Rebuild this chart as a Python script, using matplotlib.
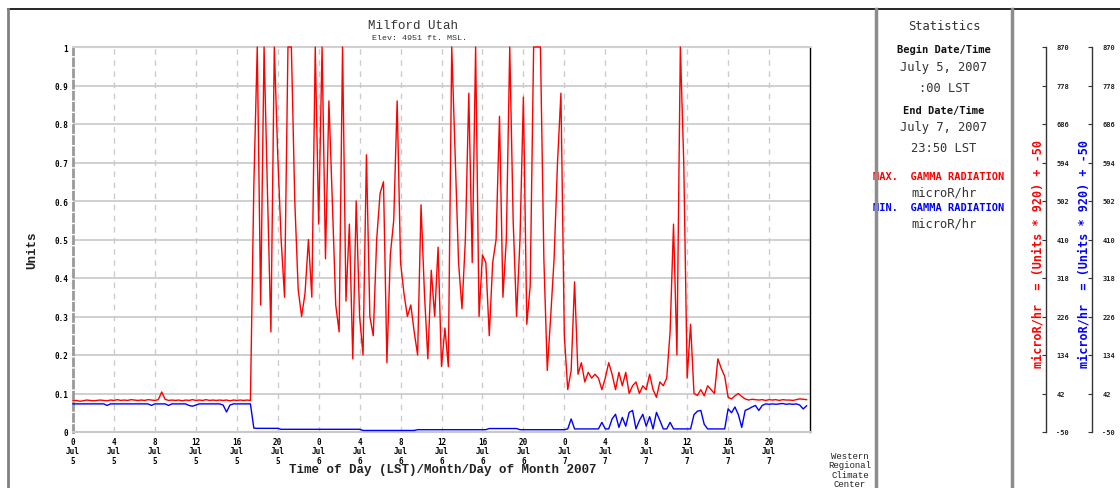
import matplotlib
matplotlib.use('Agg')
import matplotlib.pyplot as plt
from matplotlib.lines import Line2D
import numpy as np

# 20-minute samples, one row per hour (:00, :20, :40), Jul 5 0:00 .. Jul 7 23:40
max_gamma = [
    0.081, 0.082, 0.080,  0.081, 0.083, 0.082,  0.081, 0.082, 0.083,  0.082, 0.081, 0.083,
    0.082, 0.084, 0.082,  0.083, 0.082, 0.084,  0.083, 0.082, 0.083,  0.082, 0.084, 0.083,
    0.082, 0.084, 0.104,  0.085, 0.082, 0.083,  0.082, 0.083, 0.081,  0.083, 0.082, 0.084,
    0.082, 0.083, 0.082,  0.084, 0.082, 0.083,  0.082, 0.083, 0.082,  0.083, 0.081, 0.083,
    0.082, 0.083, 0.082,  0.083, 0.082, 0.640,  1.000, 0.330, 1.000,  0.620, 0.260, 1.000,
    0.720, 0.500, 0.350,  1.000, 1.000, 0.600,  0.370, 0.300, 0.360,  0.500, 0.350, 1.000,
    0.540, 1.000, 0.450,  0.860, 0.600, 0.330,  0.260, 1.000, 0.340,  0.540, 0.190, 0.600,
    0.300, 0.200, 0.720,  0.300, 0.250, 0.500,  0.620, 0.650, 0.180,  0.460, 0.550, 0.860,
    0.440, 0.360, 0.300,  0.330, 0.260, 0.200,  0.590, 0.360, 0.190,  0.420, 0.300, 0.480,
    0.170, 0.270, 0.170,  1.000, 0.720, 0.440,  0.320, 0.500, 0.880,  0.440, 1.000, 0.300,
    0.460, 0.440, 0.250,  0.440, 0.500, 0.820,  0.350, 0.500, 1.000,  0.550, 0.300, 0.500,
    0.870, 0.280, 0.380,  1.000, 1.000, 1.000,  0.450, 0.160, 0.300,  0.450, 0.700, 0.880,
    0.250, 0.110, 0.160,  0.390, 0.150, 0.180,  0.130, 0.155, 0.140,  0.150, 0.140, 0.110,
    0.140, 0.180, 0.150,  0.110, 0.155, 0.120,  0.155, 0.100, 0.120,  0.130, 0.100, 0.120,
    0.110, 0.150, 0.110,  0.090, 0.130, 0.120,  0.140, 0.260, 0.540,  0.200, 1.000, 0.700,
    0.140, 0.280, 0.100,  0.095, 0.110, 0.094,  0.120, 0.110, 0.100,  0.190, 0.165, 0.145,
    0.090, 0.086, 0.094,  0.100, 0.092, 0.086,  0.083, 0.085, 0.084,  0.083, 0.084, 0.082,
    0.084, 0.083, 0.084,  0.082, 0.084, 0.083,  0.083, 0.082, 0.084,  0.086, 0.085, 0.084,
]

min_gamma = [
    0.073, 0.073, 0.073,  0.073, 0.073, 0.073,  0.073, 0.073, 0.073,  0.073, 0.069, 0.073,
    0.073, 0.073, 0.073,  0.073, 0.073, 0.073,  0.073, 0.073, 0.073,  0.073, 0.073, 0.069,
    0.073, 0.073, 0.073,  0.073, 0.069, 0.073,  0.073, 0.073, 0.073,  0.073, 0.069, 0.067,
    0.070, 0.073, 0.073,  0.073, 0.073, 0.073,  0.073, 0.073, 0.070,  0.052, 0.070, 0.073,
    0.073, 0.073, 0.073,  0.073, 0.073, 0.010,  0.0095, 0.0095, 0.0095,  0.0095, 0.0095, 0.0095,
    0.0095, 0.007, 0.007,  0.007, 0.007, 0.007,  0.007, 0.007, 0.007,  0.007, 0.007, 0.007,
    0.007, 0.007, 0.007,  0.007, 0.007, 0.007,  0.007, 0.007, 0.007,  0.007, 0.007, 0.007,
    0.007, 0.004, 0.004,  0.004, 0.004, 0.004,  0.004, 0.004, 0.004,  0.004, 0.004, 0.004,
    0.004, 0.004, 0.004,  0.004, 0.004, 0.006,  0.006, 0.006, 0.006,  0.006, 0.006, 0.006,
    0.006, 0.006, 0.006,  0.006, 0.006, 0.006,  0.006, 0.006, 0.006,  0.006, 0.006, 0.006,
    0.006, 0.006, 0.009,  0.009, 0.009, 0.009,  0.009, 0.009, 0.009,  0.009, 0.009, 0.006,
    0.006, 0.006, 0.006,  0.006, 0.006, 0.006,  0.006, 0.006, 0.006,  0.006, 0.006, 0.006,
    0.006, 0.008, 0.034,  0.008, 0.008, 0.008,  0.008, 0.008, 0.008,  0.008, 0.008, 0.025,
    0.008, 0.008, 0.034,  0.046, 0.012, 0.038,  0.015, 0.051, 0.056,  0.008, 0.030, 0.046,
    0.015, 0.040, 0.008,  0.051, 0.030, 0.008,  0.008, 0.025, 0.008,  0.008, 0.008, 0.008,
    0.008, 0.008, 0.045,  0.054, 0.056, 0.020,  0.008, 0.008, 0.008,  0.008, 0.008, 0.008,
    0.060, 0.050, 0.065,  0.045, 0.012, 0.056,  0.060, 0.065, 0.069,  0.056, 0.069, 0.073,
    0.072, 0.073, 0.072,  0.073, 0.074, 0.072,  0.073, 0.072, 0.073,  0.070, 0.060, 0.068,
]
sample_minutes = 20

tick_hours = [0, 4, 8, 12, 16, 20, 24, 28, 32, 36, 40, 44, 48, 52, 56, 60, 64, 68]
tick_labels = ['0\nJul\n5', '4\nJul\n5', '8\nJul\n5', '12\nJul\n5', '16\nJul\n5', '20\nJul\n5',
               '0\nJul\n6', '4\nJul\n6', '8\nJul\n6', '12\nJul\n6', '16\nJul\n6', '20\nJul\n6',
               '0\nJul\n7', '4\nJul\n7', '8\nJul\n7', '12\nJul\n7', '16\nJul\n7', '20\nJul\n7']
unit_ticks = [0, 0.1, 0.2, 0.3, 0.4, 0.5, 0.6, 0.7, 0.8, 0.9, 1.0]
unit_labels = ['0', '0.1', '0.2', '0.3', '0.4', '0.5', '0.6', '0.7', '0.8', '0.9', '1']
micro_ticks = [-50, 42, 134, 226, 318, 410, 502, 594, 686, 778, 870]

W, H = 1120, 489
MONO = 'DejaVu Sans Mono'
COUR = 'Liberation Mono'


def box(x0, y0, x1, y1):
    # pixel box (y measured from top) -> figure fraction
    return [x0 / W, 1 - y1 / H, (x1 - x0) / W, (y1 - y0) / H]


def fx(x):
    return x / W


def fy(y):
    return 1 - y / H


fig = plt.figure(figsize=(W / 100, H / 100), dpi=100)
fig.patch.set_facecolor('white')

# main chart
ax = fig.add_axes(box(73, 48, 810, 433))
hours = np.arange(len(max_gamma)) * sample_minutes / 60.0
ax.plot(hours, max_gamma, color='#ff0000', lw=1.0, clip_on=False, zorder=3)
ax.plot(hours, min_gamma, color='#0000ff', lw=1.0, clip_on=False, zorder=3)

ax.set_xlim(0, 72)
ax.set_ylim(0, 1)
ax.set_xticks(tick_hours)
ax.set_xticklabels(tick_labels, fontsize=5.5, family=MONO, fontweight='bold',
                   linespacing=1.05)
ax.set_yticks(unit_ticks)
ax.set_yticklabels(unit_labels, fontsize=5.5, family=MONO, fontweight='bold')
ax.tick_params(axis='both', length=0)
ax.tick_params(axis='x', pad=3.5)
ax.tick_params(axis='y', pad=3.5)
ax.grid(axis='y', color='#c8c8c8', lw=1.2)
ax.grid(axis='x', color='#cccccc', lw=1.0, ls=(0, (4, 4)))
ax.set_axisbelow(True)

ax.spines['left'].set_color('#999999')
ax.spines['left'].set_linestyle((0, (2.5, 1.5)))
ax.spines['left'].set_linewidth(2)
ax.spines['top'].set_color('#d0d0d0')
ax.spines['top'].set_linewidth(1.5)
ax.spines['bottom'].set_color('#c8c8c8')
ax.spines['bottom'].set_linewidth(1.5)
ax.spines['right'].set_color('black')
ax.spines['right'].set_linewidth(1.0)

fig.text(fx(413), fy(26), 'Milford Utah', ha='center', va='center', family=COUR,
         fontsize=9, color='#333333')
fig.text(fx(420), fy(39), 'Elev: 4951 ft. MSL.', ha='center', va='center', family=COUR,
         fontsize=6, color='#333333')
fig.text(fx(32), fy(250), 'Units', ha='center', va='center', rotation=90, family=COUR,
         fontsize=9, fontweight='bold', color='#222222')
fig.text(fx(443), fy(470), 'Time of Day (LST)/Month/Day of Month 2007', ha='center',
         va='center', family=COUR, fontsize=9, fontweight='bold', color='#222222')
fig.text(fx(850), fy(452), 'Western\nRegional\nClimate\nCenter', ha='center', va='top',
         family=COUR, fontsize=6.5, color='#222222', linespacing=1.05)

# statistics panel
cx = 944
fig.text(fx(cx), fy(26), 'Statistics', ha='center', va='center', family=MONO,
         fontsize=8.7, color='#333333')
fig.text(fx(cx), fy(50), 'Begin Date/Time', ha='center', va='center', family=MONO,
         fontsize=7.5, fontweight='bold', color='#111111')
fig.text(fx(cx), fy(68), 'July 5, 2007', ha='center', va='center', family=MONO,
         fontsize=8.7, color='#333333')
fig.text(fx(cx), fy(88), ':00 LST', ha='center', va='center', family=MONO,
         fontsize=8.7, color='#333333')
fig.text(fx(cx), fy(111), 'End Date/Time', ha='center', va='center', family=MONO,
         fontsize=7.5, fontweight='bold', color='#111111')
fig.text(fx(cx), fy(128), 'July 7, 2007', ha='center', va='center', family=MONO,
         fontsize=8.7, color='#333333')
fig.text(fx(cx), fy(148), '23:50 LST', ha='center', va='center', family=MONO,
         fontsize=8.7, color='#333333')
fig.text(fx(873), fy(177), 'MAX.  GAMMA RADIATION', ha='left', va='center', family=MONO,
         fontsize=7.5, fontweight='bold', color='#ff0000')
fig.text(fx(cx), fy(193), 'microR/hr', ha='center', va='center', family=MONO,
         fontsize=8.7, color='#333333')
fig.text(fx(873), fy(208), 'MIN.  GAMMA RADIATION', ha='left', va='center', family=MONO,
         fontsize=7.5, fontweight='bold', color='#0000ff')
fig.text(fx(cx), fy(224), 'microR/hr', ha='center', va='center', family=MONO,
         fontsize=8.7, color='#333333')

# converted scales on the right
for x_px, lab_x, color in [(1046, 1038, '#ff0000'), (1092, 1084, '#0000ff')]:
    rax = fig.add_axes(box(x_px, 48, x_px + 0.5, 433))
    rax.patch.set_visible(False)
    rax.set_ylim(-50, 870)
    rax.set_xticks([])
    rax.set_yticks(micro_ticks)
    rax.set_yticklabels([str(v) for v in micro_ticks], fontsize=5, family=MONO,
                        fontweight='bold', color='#222222')
    for s in ['top', 'right', 'bottom']:
        rax.spines[s].set_visible(False)
    rax.spines['left'].set_color('#333333')
    rax.spines['left'].set_linewidth(1.0)
    rax.tick_params(axis='y', left=True, right=False, labelleft=False, labelright=True,
                    length=3, width=0.8, pad=4, color='#333333')
    fig.text(fx(lab_x), fy(254), 'microR/hr  = (Units * 920) + -50', ha='center',
             va='center', rotation=90, family=MONO, fontsize=8.5, fontweight='bold',
             color=color)

# page frame
fig.add_artist(Line2D([fx(8), 1], [fy(10), fy(10)], color='black', lw=1.2, zorder=5))
fig.add_artist(Line2D([fx(8), fx(8)], [0, fy(10)], color='#808080', lw=2, zorder=5))
for xs in (876, 1012):
    fig.add_artist(Line2D([fx(xs), fx(xs)], [0, fy(10)], color='#8c8c8c', lw=2.5, zorder=5))

fig.savefig('out.png', dpi=100)
